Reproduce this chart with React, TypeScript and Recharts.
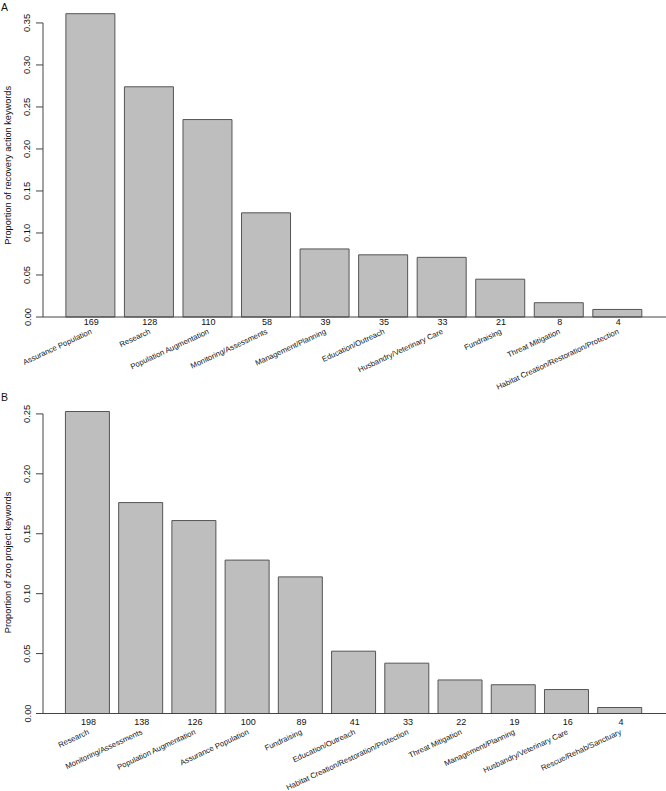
import { BarChart, Bar, XAxis, YAxis } from 'recharts';

// Panel A: recovery action keywords
const recoveryCategories = [
    'Assurance Population',
    'Research',
    'Population Augmentation',
    'Monitoring/Assessments',
    'Management/Planning',
    'Education/Outreach',
    'Husbandry/Veterinary Care',
    'Fundraising',
    'Threat Mitigation',
    'Habitat Creation/Restoration/Protection',
];
const recoveryCounts = [169, 128, 110, 58, 39, 35, 33, 21, 8, 4];
const recoveryProportions = [0.361, 0.274, 0.235, 0.124, 0.081, 0.074, 0.071, 0.045, 0.017, 0.009];
const recoveryTicks = [0, 0.05, 0.1, 0.15, 0.2, 0.25, 0.3, 0.35];

// Panel B: zoo project keywords
const zooCategories = [
    'Research',
    'Monitoring/Assessments',
    'Population Augmentation',
    'Assurance Population',
    'Fundraising',
    'Education/Outreach',
    'Habitat Creation/Restoration/Protection',
    'Threat Mitigation',
    'Management/Planning',
    'Husbandry/Veterinary Care',
    'Rescue/Rehab/Sanctuary',
];
const zooCounts = [198, 138, 126, 100, 89, 41, 33, 22, 19, 16, 4];
const zooProportions = [0.252, 0.176, 0.161, 0.128, 0.114, 0.052, 0.042, 0.028, 0.024, 0.020, 0.005];
const zooTicks = [0, 0.05, 0.1, 0.15, 0.2, 0.25];

const FONT = '"Liberation Sans", Arial, Helvetica, sans-serif';
const AXIS = '#444';
const WIDTH = 666;
const Y_AXIS_W = 43;

const YTick = (props: any) => {
    const { x, y, payload, index, visibleTicksCount, step } = props;
    const axisX = x + 11;
    const last = index === visibleTicksCount - 1;
    return (
        <g>
            <line x1={axisX - 7} y1={y} x2={axisX} y2={y} stroke={AXIS} />
            {!last && <line x1={axisX} y1={y} x2={axisX} y2={y - step} stroke={AXIS} />}
            <text
                x={27.5}
                y={y}
                transform={`rotate(-90 27.5 ${y})`}
                textAnchor="middle"
                dominantBaseline="central"
                fontSize={9.3}
                fontFamily={FONT}
                fill="#111"
            >
                {payload.value.toFixed(2)}
            </text>
        </g>
    );
};

const XTick = (props: any) => {
    const { x, y, payload, index, counts, countDy, labelDy } = props;
    const ly = y + labelDy;
    return (
        <g>
            <text x={x + 1} y={y + countDy} textAnchor="middle" dominantBaseline="central" fontSize={9} fontFamily={FONT} fill="#111">
                {counts[index]}
            </text>
            <text
                x={x + 1}
                y={ly}
                transform={`rotate(-25 ${x + 1} ${ly})`}
                textAnchor="end"
                dominantBaseline="central"
                fontSize={7.7}
                fontFamily={FONT}
                fill="#111"
            >
                {payload.value}
            </text>
        </g>
    );
};

interface PanelProps {
    letter: string;
    title: string;
    categories: string[];
    counts: number[];
    values: number[];
    ticks: number[];
    top: number;
    height: number;
    marginTop: number;
    xAxisHeight: number;
    countDy: number;
    labelDy: number;
}

const Panel = ({ letter, title, categories, counts, values, ticks, top, height, marginTop, xAxisHeight, countDy, labelDy }: PanelProps) => {
    const data = categories.map((name, i) => ({ name, value: values[i] }));
    const yMax = Math.max(...values);
    const plotH = height - marginTop - xAxisHeight;
    const step = (plotH * (ticks[1] - ticks[0])) / yMax;

    return (
        <div style={{ position: 'absolute', left: 0, top, width: WIDTH, height }}>
            <BarChart width={WIDTH} height={height} data={data} margin={{ top: marginTop, right: 0, left: 0, bottom: 0 }} barCategoryGap="8.33%">
                <XAxis
                    dataKey="name"
                    interval={0}
                    height={xAxisHeight}
                    padding={{ left: 18, right: 19.5 }}
                    axisLine={{ stroke: AXIS }}
                    tickLine={false}
                    tickSize={0}
                    tickMargin={0}
                    tick={(p: any) => <XTick {...p} counts={counts} countDy={countDy} labelDy={labelDy} />}
                />
                <YAxis
                    type="number"
                    width={Y_AXIS_W}
                    domain={[0, yMax]}
                    ticks={ticks}
                    interval={0}
                    axisLine={false}
                    tickLine={false}
                    tickSize={7}
                    tickMargin={4}
                    tick={(p: any) => <YTick {...p} step={step} />}
                    label={{
                        content: ({ viewBox }: any) => {
                            const cy = viewBox.y + viewBox.height / 2;
                            return (
                                <text
                                    x={8}
                                    y={cy}
                                    transform={`rotate(-90 8 ${cy})`}
                                    textAnchor="middle"
                                    dominantBaseline="central"
                                    fontSize={9.2}
                                    fontFamily={FONT}
                                    fill="#111"
                                >
                                    {title}
                                </text>
                            );
                        },
                    }}
                />
                <Bar dataKey="value" fill="#bebebe" stroke="#555" strokeWidth={1} isAnimationActive={false} />
            </BarChart>
            <svg width={20} height={16} style={{ position: 'absolute', left: 0, top: 0 }}>
                <text x={1} y={10.5} fontSize={10.5} fontFamily={FONT} fill="#111">
                    {letter}
                </text>
            </svg>
        </div>
    );
};

export default function App() {
    return (
        <div style={{ position: 'absolute', left: 0, top: 0, width: WIDTH, height: 791, background: '#fff' }}>
            <Panel
                letter="A"
                title="Proportion of recovery action keywords"
                categories={recoveryCategories}
                counts={recoveryCounts}
                values={recoveryProportions}
                ticks={recoveryTicks}
                top={0}
                height={400}
                marginTop={13.7}
                xAxisHeight={83}
                countDy={5}
                labelDy={14}
            />
            <Panel
                letter="B"
                title="Proportion of zoo project keywords"
                categories={zooCategories}
                counts={zooCounts}
                values={zooProportions}
                ticks={zooTicks}
                top={390}
                height={401}
                marginTop={21.5}
                xAxisHeight={77.5}
                countDy={8}
                labelDy={18}
            />
        </div>
    );
}
